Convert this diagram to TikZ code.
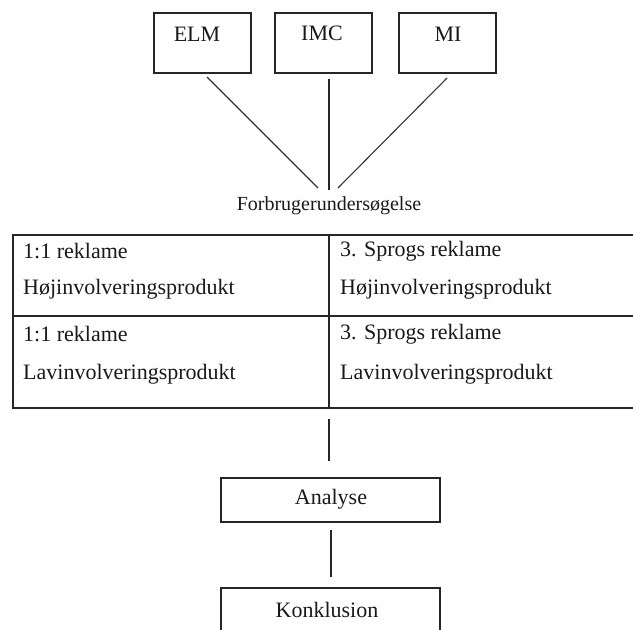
\documentclass[tikz,border=0pt]{standalone}
\usepackage{fontspec}
\setmainfont{Liberation Serif}
\begin{document}
\begin{tikzpicture}[x=1pt,y=-1pt,
  frame/.style={draw=black!85,line width=1.8pt,rectangle,inner sep=0pt},
  txt/.style={inner sep=0pt,font=\fontsize{22}{26}\selectfont,text=black!90},
  smalltxt/.style={inner sep=0pt,font=\fontsize{20}{24}\selectfont,text=black!90},
  cell/.style={txt,anchor=west},
  link/.style={draw=black!85,line width=1.4pt},
  slant/.style={draw=black!80,line width=1.1pt}]
\useasboundingbox (0,0) rectangle (633,630);
\clip (0,0) rectangle (633,630);

% theory boxes
\node[frame,minimum width=97pt,minimum height=60pt] (elm) at (202.5,43) {};
\node[frame,minimum width=97pt,minimum height=60pt] (imc) at (323.5,43) {};
\node[frame,minimum width=97pt,minimum height=60pt] (mi)  at (447.5,43) {};
\node[txt] (elmt) at (197,34) {ELM};
\node[txt] (imct) at (322,33) {IMC};
\node[txt] (mit)  at (448,34) {MI};

% converging lines
\coordinate (c1) at (207,77);
\coordinate (c2) at (329,79);
\coordinate (c3) at (447,78);
\coordinate (m1) at (318,188);
\coordinate (m2) at (329,190);
\coordinate (m3) at (338,188);
\draw[slant] (c1) -- (m1);
\draw[link] (c2) -- (m2);
\draw[slant] (c3) -- (m3);

\node[smalltxt] (survey) at (329,206) {Forbrugerundersøgelse};

% survey table
\coordinate (tl) at (13,235);
\coordinate (br) at (650,408);
\draw[draw=black!85,line width=1.8pt] (650,235) -- (tl) -- (13,408) -- (br);
\draw[draw=black!85,line width=1.8pt] (329,235) -- (329,408);
\draw[draw=black!85,line width=1.8pt] (13,316) -- (650,316);

\node[cell] (a1) at (23,251) {1:1 reklame};
\node[cell] (a2) at (23,289) {Højinvolveringsprodukt};
\node[cell] (b1) at (340,251) {3. Sprogs reklame};
\node[cell] (b2) at (340,289) {Højinvolveringsprodukt};
\node[cell] (a3) at (23,334) {1:1 reklame};
\node[cell] (a4) at (23,374) {Lavinvolveringsprodukt};
\node[cell] (b3) at (340,334) {3. Sprogs reklame};
\node[cell] (b4) at (340,374) {Lavinvolveringsprodukt};

% analysis and conclusion
\node[frame,minimum width=219pt,minimum height=44pt] (ana) at (330.5,500) {};
\node[txt] (anat) at (331,499) {Analyse};
\node[frame,minimum width=219pt,minimum height=60pt] (kon) at (330.5,618) {};
\node[txt] (kont) at (327,610) {Konklusion};

\coordinate (t1) at (329,419);
\coordinate (t2) at (329,461);
\coordinate (t3) at (331,530);
\coordinate (t4) at (331,577);
\draw[link] (t1) -- (t2);
\draw[link] (t3) -- (t4);
\end{tikzpicture}
\end{document}
